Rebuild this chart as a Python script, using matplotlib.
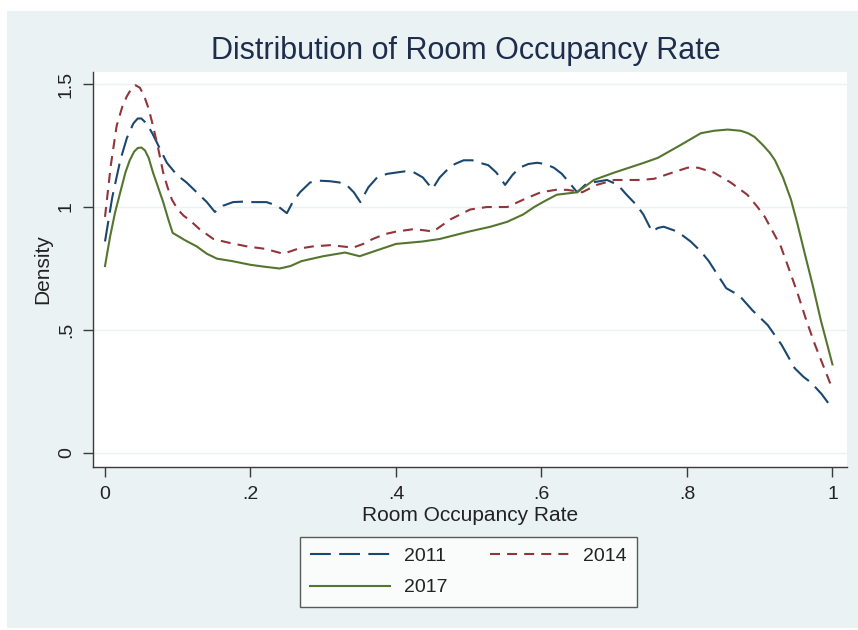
import matplotlib
matplotlib.use("Agg")
import matplotlib.pyplot as plt
from matplotlib.patches import Rectangle

plt.rcParams['font.family'] = ['Liberation Sans', 'DejaVu Sans']

# ---- data ----
x2011 = [0, .01, .021, .03, .039, .045, .05, .057, .065, .075, .085, .099, .112, .126, .14, .151, .162, .176,
         .19, .203, .222, .237, .25, .258, .268, .282, .295, .309, .322, .332, .342, .351, .362, .374, .388,
         .40, .412, .424, .437, .45, .46, .47, .481, .493, .505, .515, .527, .538, .55, .56, .57, .582, .594,
         .605, .617, .628, .638, .649, .66, .67, .69, .705, .717, .73, .74, .752, .76, .768, .787, .805, .819,
         .83, .843, .854, .872, .89, .911, .93, .948, .96, .971, .985, 1.0]
y2011 = [.86, 1.04, 1.19, 1.28, 1.34, 1.36, 1.36, 1.34, 1.30, 1.24, 1.18, 1.13, 1.10, 1.06, 1.02, .98, 1.005, 1.02,
         1.022, 1.02, 1.02, 1.005, .975, 1.02, 1.06, 1.10, 1.107, 1.105, 1.10, 1.09, 1.06, 1.02, 1.08, 1.12, 1.135,
         1.14, 1.145, 1.142, 1.12, 1.073, 1.12, 1.15, 1.175, 1.19, 1.19, 1.18, 1.17, 1.14, 1.09, 1.13, 1.16, 1.175, 1.18,
         1.175, 1.16, 1.135, 1.10, 1.06, 1.09, 1.10, 1.11, 1.09, 1.05, 1.01, .97, .90, .915, .92, .90, .86, .82,
         .78, .72, .67, .64, .58, .52, .44, .345, .31, .285, .24, .18]

x2014 = [0, .008, .016, .024, .03, .036, .042, .048, .054, .06, .066, .073, .08, .086, .092, .1, .108, .117,
         .13, .149, .17, .195, .22, .245, .265, .286, .31, .341, .355, .368, .385, .40, .424, .44, .451, .475,
         .502, .525, .553, .575, .599, .62, .635, .656, .676, .70, .737, .755, .78, .801, .815, .837, .86, .883,
         .897, .907, .918, .929, .94, .952, .964, .976, .988, 1.0]
y2014 = [.96, 1.17, 1.33, 1.41, 1.45, 1.48, 1.495, 1.485, 1.45, 1.40, 1.33, 1.24, 1.14, 1.08, 1.03, .99, .965, .945,
         .91, .87, .855, .84, .83, .81, .83, .84, .845, .835, .85, .87, .89, .90, .91, .905, .90, .95,
         .99, 1.0, 1.0, 1.03, 1.06, 1.07, 1.07, 1.06, 1.09, 1.11, 1.11, 1.115, 1.14, 1.16, 1.16, 1.14, 1.10, 1.05,
         1.0, .96, .90, .84, .75, .65, .54, .44, .35, .26]

x2017 = [0, .007, .014, .021, .028, .034, .04, .045, .05, .055, .06, .066, .073, .08, .087, .093, .11, .126,
         .14, .154, .175, .2, .22, .24, .255, .27, .3, .33, .35, .37, .4, .437, .46, .5, .53, .553, .575, .59,
         .605, .621, .649, .672, .70, .741, .76, .79, .819, .837, .856, .874, .884, .893, .905, .914, .921,
         .932, .943, .952, .962, .973, .984, .992, 1.0]
y2017 = [.76, .88, .98, 1.06, 1.14, 1.19, 1.225, 1.24, 1.242, 1.23, 1.20, 1.14, 1.08, 1.02, .95, .895, .865, .84,
         .81, .79, .78, .765, .757, .75, .76, .78, .80, .815, .80, .82, .85, .86, .87, .90, .92, .94, .97, 1.0,
         1.025, 1.05, 1.06, 1.11, 1.14, 1.18, 1.20, 1.25, 1.30, 1.31, 1.315, 1.31, 1.30, 1.285, 1.25, 1.22, 1.19,
         1.12, 1.03, .93, .81, .68, .54, .45, .36]

series_labels = ["2011", "2014", "2017"]
xticks = [0, .2, .4, .6, .8, 1]
xtick_labels = ["0", ".2", ".4", ".6", ".8", "1"]
yticks = [0, .5, 1, 1.5]
ytick_labels = ["0", ".5", "1", "1.5"]

# ---- figure ----
W, H = 858, 630
fig = plt.figure(figsize=(W / 100, H / 100), dpi=100)
fig.patch.set_facecolor('white')
bg = '#EAF2F3'
fig.patches.append(Rectangle((7 / W, 2 / H), 1 - 7 / W, (628 - 11) / H,
                             transform=fig.transFigure, facecolor=bg, edgecolor='none', zorder=-10))

ax = fig.add_axes([93 / W, 1 - 467 / H, (847 - 93) / W, (467 - 72) / H])
ax.set_facecolor('white')

lw = 1.5
navy, maroon, green = '#1A476F', '#90353B', '#55752F'
l1, = ax.plot(x2011, y2011, color=navy, lw=lw, dashes=(10, 4), label=series_labels[0])
l2, = ax.plot(x2014, y2014, color=maroon, lw=lw, dashes=(4.8, 3.4), label=series_labels[1])
l3, = ax.plot(x2017, y2017, color=green, lw=lw, label=series_labels[2])

ax.set_xlim(-0.0165, 1.02)
ax.set_ylim(-0.057, 1.549)

for yv in yticks:
    ax.axhline(yv, color=bg, lw=1.0, zorder=0)

for s in ['top', 'right']:
    ax.spines[s].set_visible(False)
for s in ['left', 'bottom']:
    ax.spines[s].set_color('#3a3a3a')
    ax.spines[s].set_linewidth(1.0)

fs = 14
ax.set_xticks(xticks)
ax.set_xticklabels(xtick_labels, fontsize=fs, color='#222222')
ax.set_yticks(yticks)
ax.set_yticklabels(ytick_labels, fontsize=fs, color='#222222', rotation=90, va='center')
ax.tick_params(axis='x', direction='out', length=7, width=1.0, color='#3a3a3a', pad=7)
ax.tick_params(axis='y', direction='out', length=7, width=1.0, color='#3a3a3a', pad=6)

ax.set_xlabel("Room Occupancy Rate", fontsize=fs + 1, color='#222222', labelpad=2)
ax.set_ylabel("Density", fontsize=fs + 1, color='#222222', labelpad=4)

fig.text(0.543, 1 - 51 / H, "Distribution of Room Occupancy Rate", fontsize=22,
         color='#1F2D4D', ha='center', va='center')

leg = ax.legend([l1, l3, l2], [series_labels[0], series_labels[2], series_labels[1]],
                loc='center', bbox_to_anchor=(468.5 / W, 1 - 572 / H), bbox_transform=fig.transFigure,
                ncol=2, fontsize=fs, frameon=True, fancybox=False, edgecolor='#333333',
                handlelength=4.1, handletextpad=0.7, columnspacing=2.2, labelspacing=0.7,
                borderpad=0.55)
leg.get_frame().set_linewidth(1.0)
leg.get_frame().set_facecolor('white')
for t in leg.get_texts():
    t.set_color('#222222')

fig.savefig("out.png", dpi=100)
